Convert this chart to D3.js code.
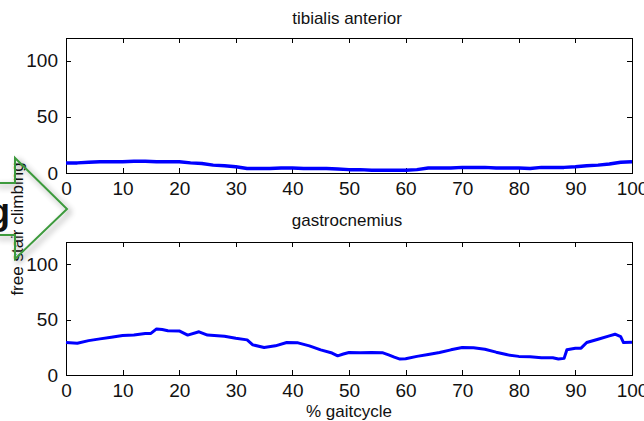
<!DOCTYPE html>
<html>
<head>
<meta charset="utf-8">
<script src="https://cdn.jsdelivr.net/npm/d3@7"></script>
<style>
  html, body { margin: 0; padding: 0; background: #fff; }
  svg { display: block; }
  text { font-family: "Liberation Sans", Arial, sans-serif; fill: #111; }
</style>
</head>
<body>
<svg id="chart" width="644" height="421"></svg>
<script>
// EMG envelopes over the gait cycle (% of max), free stair climbing
const xTicks = [0, 10, 20, 30, 40, 50, 60, 70, 80, 90, 100];
const yTicks = [0, 50, 100];

const tibialisX = [0, 2, 4, 6, 8, 10, 12, 14, 16, 18, 20, 22, 24, 26, 28, 30, 32, 34, 36, 38, 40,
  42, 44, 46, 48, 50, 52, 54, 56, 58, 60, 62, 64, 66, 68, 70, 72, 74, 76, 78, 80,
  82, 84, 86, 88, 90, 92, 94, 96, 98, 100];
const tibialisY = [9, 9, 9.5, 10, 10, 10, 10.5, 10.5, 10, 10, 10, 9, 8.5, 7, 6.5, 5.5, 4, 4, 4, 4.5, 4.5,
  4, 4, 4, 3.5, 3, 3, 2.5, 2.5, 2.5, 2.5, 3, 4.5, 4.5, 4.5, 5, 5, 5, 4.5, 4.5, 4.5,
  4, 5, 5, 5, 5.5, 6.5, 7, 8, 9.5, 10];

const gastroX = [0, 2, 4, 6, 8, 10, 12, 14, 15, 16, 17, 18, 20, 21.5, 23.5, 25, 28, 30, 32, 33, 35,
  37, 39, 41, 43, 45, 47, 48, 49, 50, 52, 54, 56, 57, 58, 59, 60, 62, 64, 66, 68, 70,
  72, 74, 76, 78, 80, 82, 84, 86, 87, 88, 88.5, 90, 91, 92, 94, 96, 97, 98, 98.5, 100];
const gastroY = [29.3, 28.7, 31, 32.6, 34, 35.6, 36, 37.4, 37.5, 41.6, 41, 40, 39.8, 36, 39, 36, 35, 33.2, 31.7, 27.2, 24.8,
  26.3, 29.3, 29, 26.3, 22.7, 19.8, 17.3, 18.9, 20.3, 20, 20.3, 20, 18.2, 16.2, 14.4, 14.6, 16.8, 18.5, 20.3, 22.7, 24.8,
  24.5, 23.3, 20.6, 18.2, 16.8, 16.5, 15.5, 15.5, 14.4, 15, 22.7, 24.2, 24.2, 29.3, 32.3, 35.3, 36.8, 34.7, 29.3, 29.6];

const panels = [
  { title: "tibialis anterior", xs: tibialisX, ys: tibialisY, top: 38, bottom: 173, titleY: 24, lw: 3.5 },
  { title: "gastrocnemius", xs: gastroX, ys: gastroY, top: 242, bottom: 375, titleY: 226, lw: 3 }
];

const svg = d3.select("#chart");
const left = 66, right = 632;
const x = d3.scaleLinear().domain([0, 100]).range([left, right]);
const tickFont = "'Liberation Sans Narrow', 'Arial Narrow', sans-serif";

panels.forEach(p => {
  const y = d3.scaleLinear().domain([0, 120]).range([p.bottom, p.top]);
  const g = svg.append("g");

  // frame
  g.append("rect")
    .attr("x", left).attr("y", p.top)
    .attr("width", right - left).attr("height", p.bottom - p.top)
    .attr("fill", "none").attr("stroke", "#000").attr("shape-rendering", "crispEdges");

  // bottom axis: inward ticks, labels below
  const xb = g.append("g").attr("transform", `translate(0,${p.bottom})`)
    .call(d3.axisBottom(x).tickValues(xTicks).tickSizeInner(-5).tickSizeOuter(0).tickPadding(9));
  // top axis ticks only
  const xt = g.append("g").attr("transform", `translate(0,${p.top})`)
    .call(d3.axisTop(x).tickValues(xTicks).tickSizeInner(-5).tickSizeOuter(0).tickFormat(""));
  // left axis
  const yl = g.append("g").attr("transform", `translate(${left},0)`)
    .call(d3.axisLeft(y).tickValues(yTicks).tickSizeInner(-5).tickSizeOuter(0).tickPadding(8));
  // right axis ticks only
  const yr = g.append("g").attr("transform", `translate(${right},0)`)
    .call(d3.axisRight(y).tickValues(yTicks).tickSizeInner(-5).tickSizeOuter(0).tickFormat(""));

  [xb, xt, yl, yr].forEach(a => {
    a.select(".domain").remove();
    a.selectAll("line").attr("stroke", "#000").attr("shape-rendering", "crispEdges");
    a.selectAll("text").attr("font-family", tickFont)
      .attr("font-size", 19).attr("fill", "#111");
  });
  xb.selectAll("text").attr("dy", "0.71em");

  // envelope
  const line = d3.line().x((d, i) => x(p.xs[i])).y(d => y(d));
  g.append("path")
    .datum(p.ys)
    .attr("d", line)
    .attr("fill", "none")
    .attr("stroke", "#0000ff")
    .attr("stroke-width", p.lw)
    .attr("stroke-linejoin", "round");

  g.append("text")
    .attr("x", (left + right) / 2 - 2).attr("y", p.titleY)
    .attr("text-anchor", "middle").attr("font-size", 17)
    .text(p.title);
});

svg.append("text")
  .attr("x", (left + right) / 2).attr("y", 417)
  .attr("text-anchor", "middle").attr("font-size", 17)
  .text("% gaitcycle");

// row label
svg.append("text")
  .attr("transform", "translate(23,229) rotate(-90)")
  .attr("text-anchor", "middle").attr("font-size", 17)
  .text("free stair climbing");

// overlaid big letter and arrow outline
svg.append("text")
  .attr("x", 10).attr("y", 224)
  .attr("text-anchor", "end").attr("font-size", 36).attr("font-weight", "bold")
  .attr("fill", "#000")
  .text("g");

const defs = svg.append("defs");
const f = defs.append("filter").attr("id", "shadow")
  .attr("x", "-30%").attr("y", "-30%").attr("width", "160%").attr("height", "160%");
f.append("feGaussianBlur").attr("in", "SourceAlpha").attr("stdDeviation", 3).attr("result", "b");
f.append("feOffset").attr("in", "b").attr("dx", 3).attr("dy", 3).attr("result", "o");
f.append("feComponentTransfer").attr("in", "o").attr("result", "s")
  .append("feFuncA").attr("type", "linear").attr("slope", 0.45);
const fm = f.append("feMerge");
fm.append("feMergeNode").attr("in", "s");
fm.append("feMergeNode").attr("in", "SourceGraphic");

const arrowPts = [[-6, 183], [15, 183], [15, 158], [67, 209], [15, 259], [15, 235], [-6, 235]];
svg.append("path")
  .attr("d", d3.line()(arrowPts))
  .attr("fill", "none")
  .attr("stroke", "#3e9a3e")
  .attr("stroke-width", 2)
  .attr("filter", "url(#shadow)");
</script>
</body>
</html>
